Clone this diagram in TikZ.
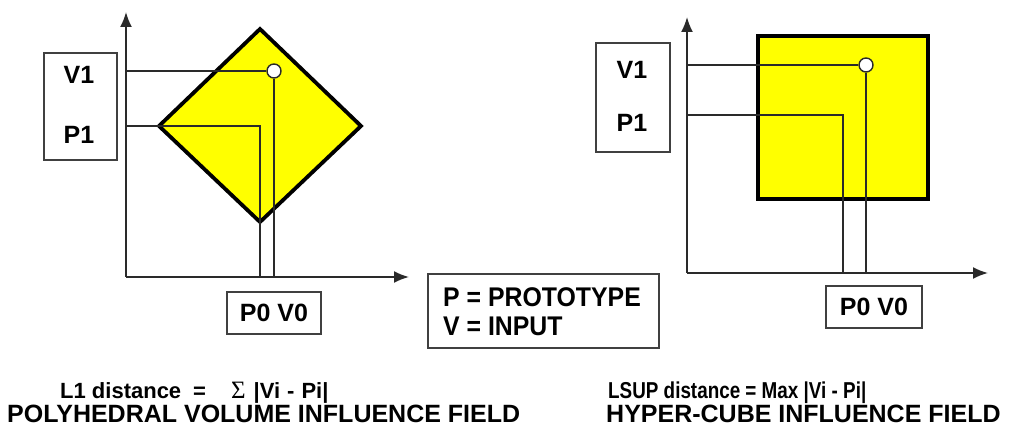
\documentclass[tikz,border=0pt]{standalone}
\usepackage{fontspec}
\setmainfont{Liberation Sans}
\newfontfamily\symfont{Liberation Serif}
\usetikzlibrary{arrows.meta}
\definecolor{axisgray}{HTML}{2A2A2A}
\definecolor{boxgray}{HTML}{404040}
\definecolor{fieldyellow}{HTML}{FFFF00}
\begin{document}
\begin{tikzpicture}[x=1pt,y=-1pt,
  axis/.style={draw=axisgray, line width=1.8pt, -{Latex[length=15pt,width=12pt]}},
  guide/.style={draw=axisgray, line width=1.4pt},
  labelbox/.style={draw=boxgray, line width=1.3pt, fill=white, rectangle, inner sep=0pt},
  lbl/.style={font=\fontsize{25}{28}\selectfont\bfseries, text=black, inner sep=0pt},
  pv/.style={font=\fontsize{25}{28}\selectfont\bfseries, text=black, inner sep=0pt},
  legtext/.style={font=\fontsize{27}{30}\selectfont\bfseries, text=black, inner sep=0pt, anchor=base west},
  caption/.style={font=\fontsize{22}{26}\selectfont\bfseries, text=black, inner sep=0pt, anchor=base west},
  bigcaption/.style={font=\fontsize{25}{28}\selectfont\bfseries, text=black, inner sep=0pt, anchor=base west},
  field/.style={fill=fieldyellow, draw=black, line width=3.8pt, line join=miter},
  probe/.style={circle, draw=axisgray, fill=white, line width=1.4pt, minimum size=14pt, inner sep=0pt},
]
\useasboundingbox (0,0) rectangle (1011,427);
\fill[white] (0,0) rectangle (1011,427);

% ---------------- Left diagram (L1) ----------------
\coordinate (Lo) at (126,277);
\coordinate (Lytip) at (126,12);
\coordinate (Lxtip) at (409,277);
\coordinate (LdT) at (260,29);
\coordinate (LdR) at (361,126);
\coordinate (LdB) at (260,222);
\coordinate (LdL) at (159,126);
\coordinate (LyV) at (126,71);
\coordinate (LyP) at (126,126);
\coordinate (LxP) at (260,277);
\coordinate (LxV) at (274,277);
\coordinate (Lcorner) at (260,126);

\draw[field] (LdT) -- (LdR) -- (LdB) -- (LdL) -- cycle;
\node[labelbox, minimum width=73pt, minimum height=107pt] (Lbox) at (80.5,106.5) {};
\node[lbl] (LV1) at (79,75) {V1};
\node[lbl] (LP1) at (79,134.5) {P1};
\node[probe] (Lpt) at (274,71) {};
\draw[guide] (LyV) -- (Lpt.west);
\draw[guide] (Lpt.south) -- (LxV);
\draw[guide] (LyP) -- (Lcorner) -- (LxP);
\draw[axis] (Lo) -- (Lytip);
\draw[axis] (Lo) -- (Lxtip);
\node[labelbox, minimum width=94pt, minimum height=42pt] (Lpv) at (274,313) {};
\node[pv] (Lpvtext) at (Lpv.center) {P0 V0};

% ---------------- Legend ----------------
\node[labelbox, minimum width=231pt, minimum height=74pt] (legend) at (543.5,311) {};
\node[legtext] (legP) at (443,307) {\scalebox{0.92}[1]{P = PROTOTYPE}};
\node[legtext] (legV) at (443,335) {\scalebox{0.92}[1]{V = INPUT}};

% ---------------- Right diagram (LSUP) ----------------
\coordinate (Ro) at (687,273);
\coordinate (Rytip) at (687,17);
\coordinate (Rxtip) at (988,273);
\coordinate (RyV) at (687,65);
\coordinate (RyP) at (687,115);
\coordinate (RxP) at (843,273);
\coordinate (RxV) at (866,273);
\coordinate (Rcorner) at (843,115);

\draw[field, line width=4.5pt] (758,36) rectangle (928,199);
\node[labelbox, minimum width=74pt, minimum height=109pt] (Rbox) at (633,97.5) {};
\node[lbl] (RV1) at (632,70) {V1};
\node[lbl] (RP1) at (632,123) {P1};
\node[probe] (Rpt) at (866,65) {};
\draw[guide] (RyV) -- (Rpt.west);
\draw[guide] (Rpt.south) -- (RxV);
\draw[guide] (RyP) -- (Rcorner) -- (RxP);
\draw[axis] (Ro) -- (Rytip);
\draw[axis] (Ro) -- (Rxtip);
\node[labelbox, minimum width=96pt, minimum height=42pt] (Rpv) at (874,307) {};
\node[pv] (Rpvtext) at (Rpv.center) {P0 V0};

% ---------------- Captions ----------------
\node[caption] (capL1) at (60,398) {L1 distance\hspace{12pt}=\hspace{25pt}{\symfont\mdseries\fontsize{25}{28}\selectfont Σ}\hspace{8pt}|Vi\hspace{7pt}-\hspace{7pt}Pi|};
\node[bigcaption] (capL2) at (7,422.5) {POLYHEDRAL VOLUME INFLUENCE FIELD};
\node[caption, font=\fontsize{23}{26}\selectfont\bfseries] (capR1) at (608,398) {\scalebox{0.82}[1]{LSUP distance = Max |Vi - Pi|}};
\node[bigcaption] (capR2) at (606,422.5) {HYPER-CUBE INFLUENCE FIELD};
\end{tikzpicture}
\end{document}
